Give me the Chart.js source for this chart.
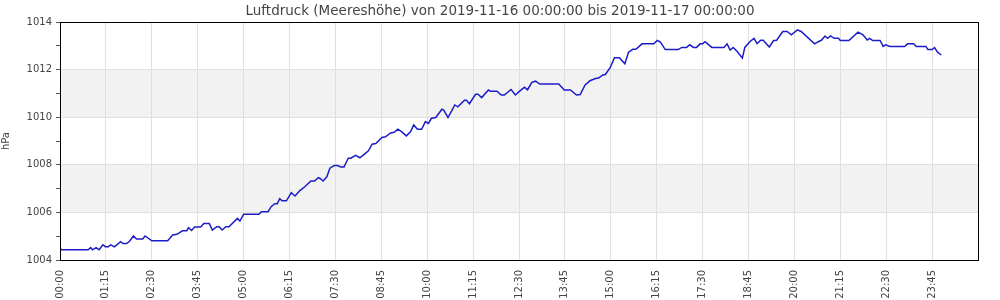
<!DOCTYPE html>
<html>
<head>
<meta charset="utf-8">
<script src="https://cdn.jsdelivr.net/npm/chart.js@4/dist/chart.umd.min.js"></script>
<style>
  html, body { margin: 0; padding: 0; background: #fff; }
  #wrap { width: 1000px; height: 300px; }
</style>
</head>
<body>
<div id="wrap"><canvas id="chart"></canvas></div>
<script>
// minutes after 2019-11-16 00:00
const minutes = [
  0, 2, 46, 50, 53, 59, 64, 70, 74, 79, 83, 89, 99, 103, 109, 114, 120, 125, 135, 139,
  150, 176, 184, 191, 200, 207, 210, 215, 220, 230, 235, 244, 249, 256, 260, 265, 271, 276, 290, 294,
  300, 325, 329, 340, 345, 351, 355, 359, 363, 370, 378, 384, 392, 400, 410, 416, 422, 425, 430, 436,
  441, 448, 453, 459, 464, 471, 475, 483, 490, 497, 504, 510, 516, 526, 532, 540, 546, 552, 558, 566,
  573, 578, 584, 591, 597, 602, 607, 614, 624, 627, 634, 640, 645, 650, 661, 664, 669, 679, 683, 689,
  700, 703, 714, 721, 726, 737, 744, 752, 759, 764, 771, 777, 784, 815, 824, 834, 844, 850, 858, 866,
  875, 880, 887, 891, 899, 906, 914, 923, 929, 936, 941, 951, 970, 976, 981, 989, 1010, 1016, 1024, 1029,
  1035, 1040, 1046, 1050, 1054, 1065, 1085, 1090, 1095, 1100, 1107, 1115, 1119, 1127, 1134, 1139, 1145, 1149, 1159, 1166,
  1171, 1181, 1188, 1195, 1205, 1211, 1233, 1239, 1244, 1250, 1254, 1259, 1265, 1272, 1275, 1289, 1304, 1312, 1319, 1323,
  1328, 1340, 1345, 1349, 1356, 1380, 1385, 1395, 1399, 1415, 1418, 1425, 1429, 1434, 1440
];

// Luftdruck in hPa
const pressure = [
  1004.52, 1004.43, 1004.43, 1004.52, 1004.43, 1004.52, 1004.43, 1004.64, 1004.56, 1004.56, 1004.64, 1004.55, 1004.77, 1004.69, 1004.69, 1004.80, 1005.01, 1004.88, 1004.88, 1005.01,
  1004.81, 1004.81, 1005.05, 1005.08, 1005.23, 1005.23, 1005.36, 1005.24, 1005.39, 1005.39, 1005.53, 1005.53, 1005.26, 1005.40, 1005.40, 1005.26, 1005.40, 1005.40, 1005.75, 1005.64,
  1005.92, 1005.92, 1006.03, 1006.03, 1006.24, 1006.37, 1006.37, 1006.58, 1006.49, 1006.49, 1006.83, 1006.69, 1006.92, 1007.08, 1007.32, 1007.32, 1007.46, 1007.43, 1007.32, 1007.50,
  1007.86, 1007.97, 1007.97, 1007.91, 1007.91, 1008.28, 1008.28, 1008.40, 1008.30, 1008.44, 1008.59, 1008.87, 1008.90, 1009.15, 1009.18, 1009.34, 1009.37, 1009.50, 1009.40, 1009.22,
  1009.40, 1009.68, 1009.50, 1009.50, 1009.82, 1009.74, 1009.96, 1009.99, 1010.34, 1010.30, 1009.99, 1010.27, 1010.52, 1010.44, 1010.72, 1010.72, 1010.57, 1010.97, 1010.97, 1010.83,
  1011.15, 1011.10, 1011.10, 1010.94, 1010.94, 1011.17, 1010.94, 1011.12, 1011.27, 1011.16, 1011.47, 1011.52, 1011.40, 1011.40, 1011.15, 1011.15, 1010.94, 1010.96, 1011.36, 1011.54,
  1011.63, 1011.65, 1011.78, 1011.80, 1012.09, 1012.51, 1012.51, 1012.25, 1012.74, 1012.86, 1012.86, 1013.09, 1013.09, 1013.23, 1013.16, 1012.85, 1012.85, 1012.94, 1012.94, 1013.05,
  1012.94, 1012.94, 1013.09, 1013.09, 1013.18, 1012.94, 1012.94, 1013.09, 1012.83, 1012.94, 1012.76, 1012.49, 1012.94, 1013.18, 1013.32, 1013.10, 1013.24, 1013.24, 1012.96, 1013.23,
  1013.24, 1013.61, 1013.61, 1013.47, 1013.68, 1013.61, 1013.09, 1013.18, 1013.24, 1013.42, 1013.32, 1013.42, 1013.32, 1013.32, 1013.23, 1013.23, 1013.58, 1013.47, 1013.25, 1013.32,
  1013.23, 1013.23, 1012.98, 1013.05, 1012.98, 1012.98, 1013.09, 1013.09, 1012.98, 1012.98, 1012.85, 1012.85, 1012.93, 1012.74, 1012.62
];

// grey bands on the y axis
const bands = [[1006, 1008], [1010, 1012]];

const yMin = 1004, yMax = 1014;
const xMax = 1500;   // axis runs one hour past midnight
const xStep = 75;

function hhmm(m) {
  const h = Math.floor(m / 60) % 24;
  const mm = m % 60;
  return String(h).padStart(2, '0') + ':' + String(mm).padStart(2, '0');
}

const points = minutes.map((m, i) => ({ x: m, y: pressure[i] }));

const bandPlugin = {
  id: 'bands',
  beforeDraw(chart) {
    const { ctx, chartArea: a, scales: { y } } = chart;
    ctx.save();
    ctx.fillStyle = '#fff';
    ctx.fillRect(0, 0, chart.width, chart.height);
    ctx.fillStyle = '#f2f2f2';
    bands.forEach(([lo, hi]) => {
      const top = y.getPixelForValue(hi);
      const bot = y.getPixelForValue(lo);
      ctx.fillRect(a.left, top, a.right - a.left, bot - top);
    });
    ctx.restore();
  },
  afterDatasetsDraw(chart) {
    const { ctx, chartArea: a } = chart;
    ctx.save();
    ctx.strokeStyle = '#000';
    ctx.lineWidth = 1;
    ctx.strokeRect(Math.round(a.left) + 0.5, Math.round(a.top) + 0.5,
      Math.round(a.right - a.left), Math.round(a.bottom - a.top));
    ctx.restore();
  }
};

Chart.defaults.font.family = '"DejaVu Sans", sans-serif';
Chart.defaults.color = '#444';

new Chart(document.getElementById('chart'), {
  type: 'line',
  data: {
    datasets: [{
      label: 'Luftdruck',
      data: points,
      borderColor: '#1c1cc8',
      borderWidth: 1.5,
      pointRadius: 0,
      tension: 0,
      fill: false
    }]
  },
  options: {
    responsive: true,
    maintainAspectRatio: false,
    animation: false,
    layout: { padding: 0 },
    plugins: {
      legend: { display: false },
      tooltip: { enabled: false },
      title: {
        display: true,
        text: 'Luftdruck (Meereshöhe) von 2019-11-16 00:00:00 bis 2019-11-17 00:00:00',
        color: '#444',
        font: { size: 13.5, weight: 'normal' },
        padding: { top: 3, bottom: 3 }
      }
    },
    scales: {
      x: {
        type: 'linear',
        min: 0,
        max: xMax,
        afterFit: s => { s.height = 40; },
        ticks: {
          stepSize: xStep,
          autoSkip: false,
          minRotation: 90,
          maxRotation: 90,
          padding: 10,
          font: { size: 10 },
          callback: v => (v < 1440 ? hhmm(v) : '')
        },
        grid: { color: '#e0e0e0', drawTicks: false },
        border: { color: '#000' }
      },
      y: {
        min: yMin,
        max: yMax,
        afterFit: s => { s.width = 60; },
        title: {
          display: true,
          text: 'hPa',
          font: { size: 10 },
          padding: 0
        },
        ticks: {
          stepSize: 1,
          padding: 4,
          font: { size: 10 },
          callback: v => (v % 2 === 0 ? v : '')
        },
        grid: {
          color: c => (c.tick && c.tick.value % 2 === 0 ? '#e0e0e0' : 'rgba(0,0,0,0)'),
          tickColor: '#555',
          tickLength: 4
        },
        border: { color: '#000' }
      },
      // empty right-hand margin so the title stays centred on the page
      yRight: {
        position: 'right',
        display: true,
        afterFit: s => { s.width = 20; },
        ticks: { display: false },
        grid: { display: false, drawTicks: false },
        border: { display: false }
      }
    }
  },
  plugins: [bandPlugin]
});
</script>
</body>
</html>
